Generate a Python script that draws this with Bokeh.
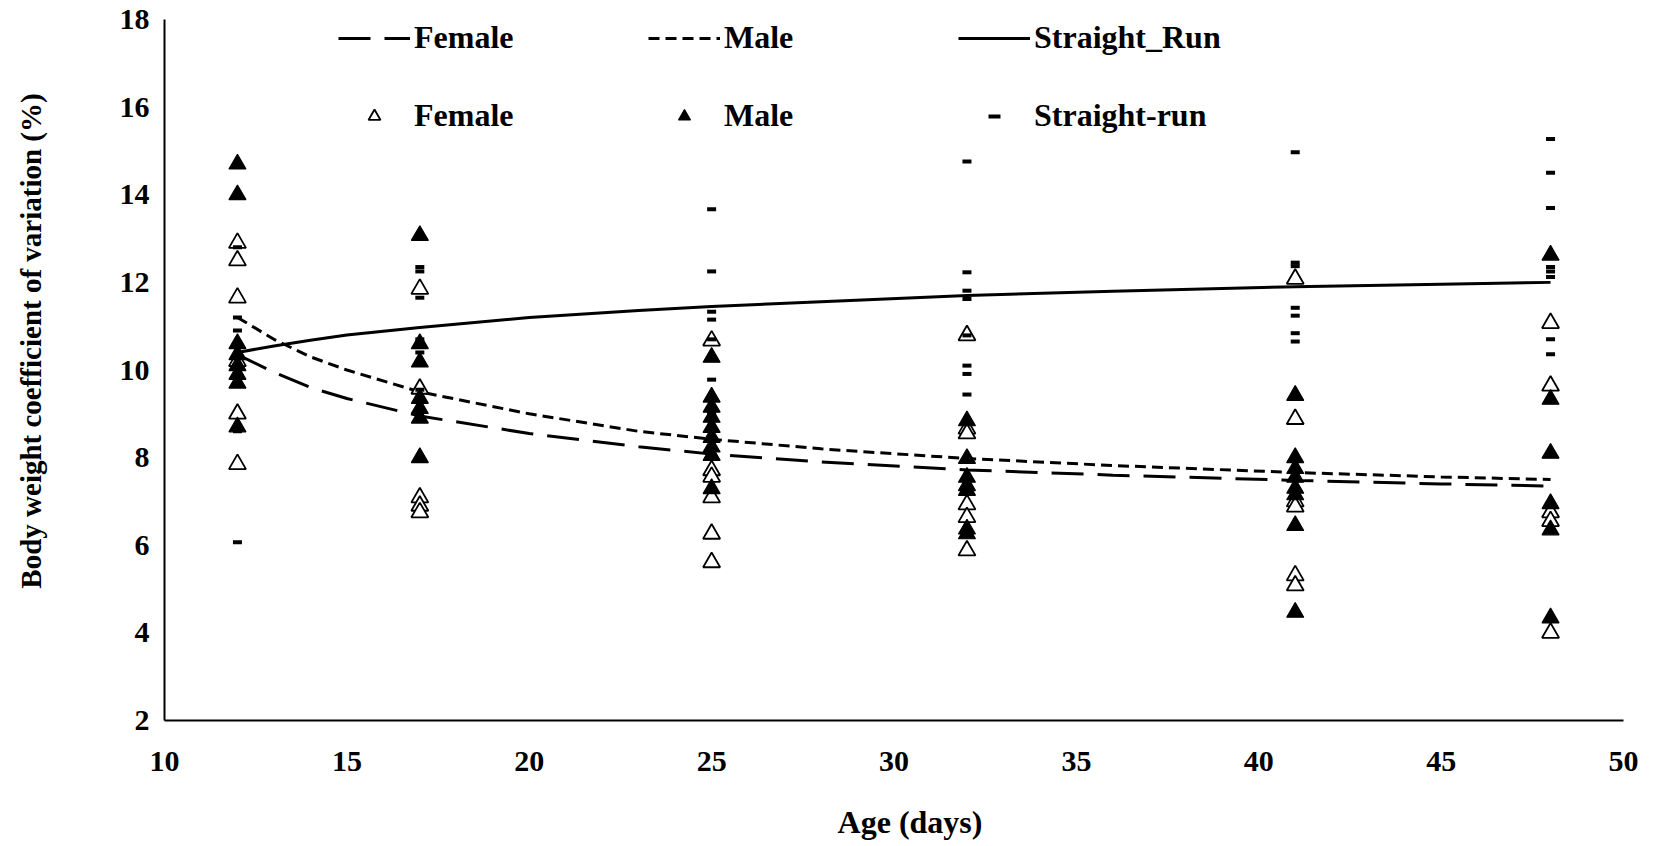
from bokeh.plotting import figure
from bokeh.models import Range1d, FixedTicker, Legend, LegendItem, ColumnDataSource
from bokeh.embed import file_html
from bokeh.resources import INLINE

# ---- data ----
ages = [12, 17, 25, 32, 41, 48]

female_cv = [
    [12.9, 12.5, 11.65, 10.2, 9.0, 7.85],
    [11.85, 9.57, 7.09, 6.9, 6.75],
    [10.67, 7.71, 7.56, 7.09, 6.26, 5.61],
    [10.79, 8.66, 8.55, 6.93, 6.64, 5.88],
    [12.08, 8.88, 7.0, 6.88, 5.31, 5.08],
    [11.07, 9.64, 6.75, 6.55, 4.0],
]
male_cv = [
    [14.7, 14.0, 10.6, 10.35, 10.1, 9.9, 9.7, 8.7],
    [13.07, 10.6, 10.18, 9.35, 9.12, 8.9, 8.0],
    [10.29, 9.38, 9.15, 8.92, 8.69, 8.46, 8.24, 8.05, 7.29],
    [8.84, 7.98, 7.55, 7.36, 7.25, 6.37, 6.26],
    [9.42, 8.0, 7.75, 7.55, 7.3, 7.15, 6.45, 4.47],
    [12.62, 9.33, 8.1, 6.95, 6.35, 4.34],
]
straight_cv = [
    [14.65, 12.8, 11.2, 10.9, 8.6, 6.07],
    [12.35, 12.25, 11.65, 10.7, 10.4, 9.55],
    [13.67, 12.25, 11.33, 11.15, 10.7, 9.78, 9.0],
    [14.76, 12.23, 11.81, 11.62, 10.79, 10.1, 9.91, 9.44],
    [14.97, 12.45, 12.37, 11.42, 11.24, 10.84, 10.65],
    [15.27, 14.5, 13.7, 12.35, 12.25, 12.12, 10.7, 10.36],
]

# trend curves
trend_age = [12, 13, 14, 15, 17, 20, 23, 25, 28, 32, 36, 41, 45, 48]
trend_female = [10.35, 9.95, 9.6, 9.35, 8.95, 8.55, 8.25, 8.08, 7.9, 7.72, 7.6, 7.48, 7.4, 7.35]
trend_male = [11.2, 10.7, 10.3, 10.0, 9.5, 9.0, 8.6, 8.42, 8.2, 7.98, 7.82, 7.66, 7.56, 7.5]
trend_straight = [10.4, 10.55, 10.68, 10.8, 10.97, 11.2, 11.36, 11.45, 11.56, 11.7, 11.8, 11.9, 11.96, 12.0]

x_ticks = [10, 15, 20, 25, 30, 35, 40, 45, 50]
y_ticks = [2, 4, 6, 8, 10, 12, 14, 16, 18]

x_title = "Age (days)"
y_title = "Body weight coefficient of variation (%)"

FONT = "Liberation Serif"
NBSP = "\u00a0"


def flatten(groups):
    xs, ys = [], []
    for a, vals in zip(ages, groups):
        for v in vals:
            xs.append(a)
            ys.append(v)
    return dict(x=xs, y=ys)


p = figure(width=1655, height=846, output_backend="svg", toolbar_location=None,
           x_range=Range1d(10, 50), y_range=Range1d(2, 18),
           min_border_left=164, min_border_right=32, min_border_top=19, min_border_bottom=126)
p.outline_line_color = None
p.grid.visible = False
p.background_fill_color = "white"
p.border_fill_color = "white"

for ax in (p.xaxis[0], p.yaxis[0]):
    ax.axis_line_color = "black"
    ax.axis_line_width = 2
    ax.major_tick_line_color = None
    ax.minor_tick_line_color = None
    ax.major_label_text_font = FONT
    ax.major_label_text_font_style = "bold"
    ax.major_label_text_font_size = "30px"
    ax.major_label_text_color = "black"
    ax.axis_label_text_font = FONT
    ax.axis_label_text_font_style = "bold"
    ax.axis_label_text_color = "black"

p.xaxis.ticker = FixedTicker(ticks=x_ticks)
p.yaxis.ticker = FixedTicker(ticks=y_ticks)
p.xaxis.major_label_standoff = 25
p.yaxis.major_label_standoff = 9

# titles sit a little off-centre in the reference: pad the start with no-break spaces
p.xaxis.axis_label = NBSP * 4 + x_title
p.yaxis.axis_label = NBSP * 8 + y_title
p.xaxis.axis_label_text_font_size = "32px"
p.yaxis.axis_label_text_font_size = "29px"
p.xaxis.axis_label_standoff = 30
p.yaxis.axis_label_standoff = 70

lf = p.line(trend_age, trend_female, line_color="black", line_width=3, line_dash="32 14")
lm = p.line(trend_age, trend_male, line_color="black", line_width=3, line_dash="11 6")
ls = p.line(trend_age, trend_straight, line_color="black", line_width=3)

sf = p.scatter("x", "y", source=ColumnDataSource(flatten(female_cv)), marker="triangle",
               size=17, fill_color="white", line_color="black", line_width=1.8)
sm = p.scatter("x", "y", source=ColumnDataSource(flatten(male_cv)), marker="triangle",
               size=17, fill_color="black", line_color="black", line_width=1.2)
ss = p.scatter("x", "y", source=ColumnDataSource(flatten(straight_cv)), marker="dash",
               size=9, line_color="black", line_width=4)


def make_legend(items, loc):
    lg = Legend(items=items, location=loc, orientation="horizontal",
                glyph_width=72, glyph_height=30, label_height=30, label_width=234,
                label_standoff=4, spacing=0, padding=0, margin=0,
                border_line_color=None, background_fill_alpha=0,
                label_text_font=FONT, label_text_font_style="bold",
                label_text_font_size="32px", label_text_color="black",
                label_text_baseline="middle")
    p.add_layout(lg, "center")


make_legend([LegendItem(label="Female", renderers=[lf]),
             LegendItem(label="Male", renderers=[lm]),
             LegendItem(label="Straight_Run", renderers=[ls])], (174, 664))
make_legend([LegendItem(label="Female", renderers=[sf]),
             LegendItem(label="Male", renderers=[sm]),
             LegendItem(label="Straight-run", renderers=[ss])], (174, 586))

open("out.html", "w").write(file_html(p, INLINE))
